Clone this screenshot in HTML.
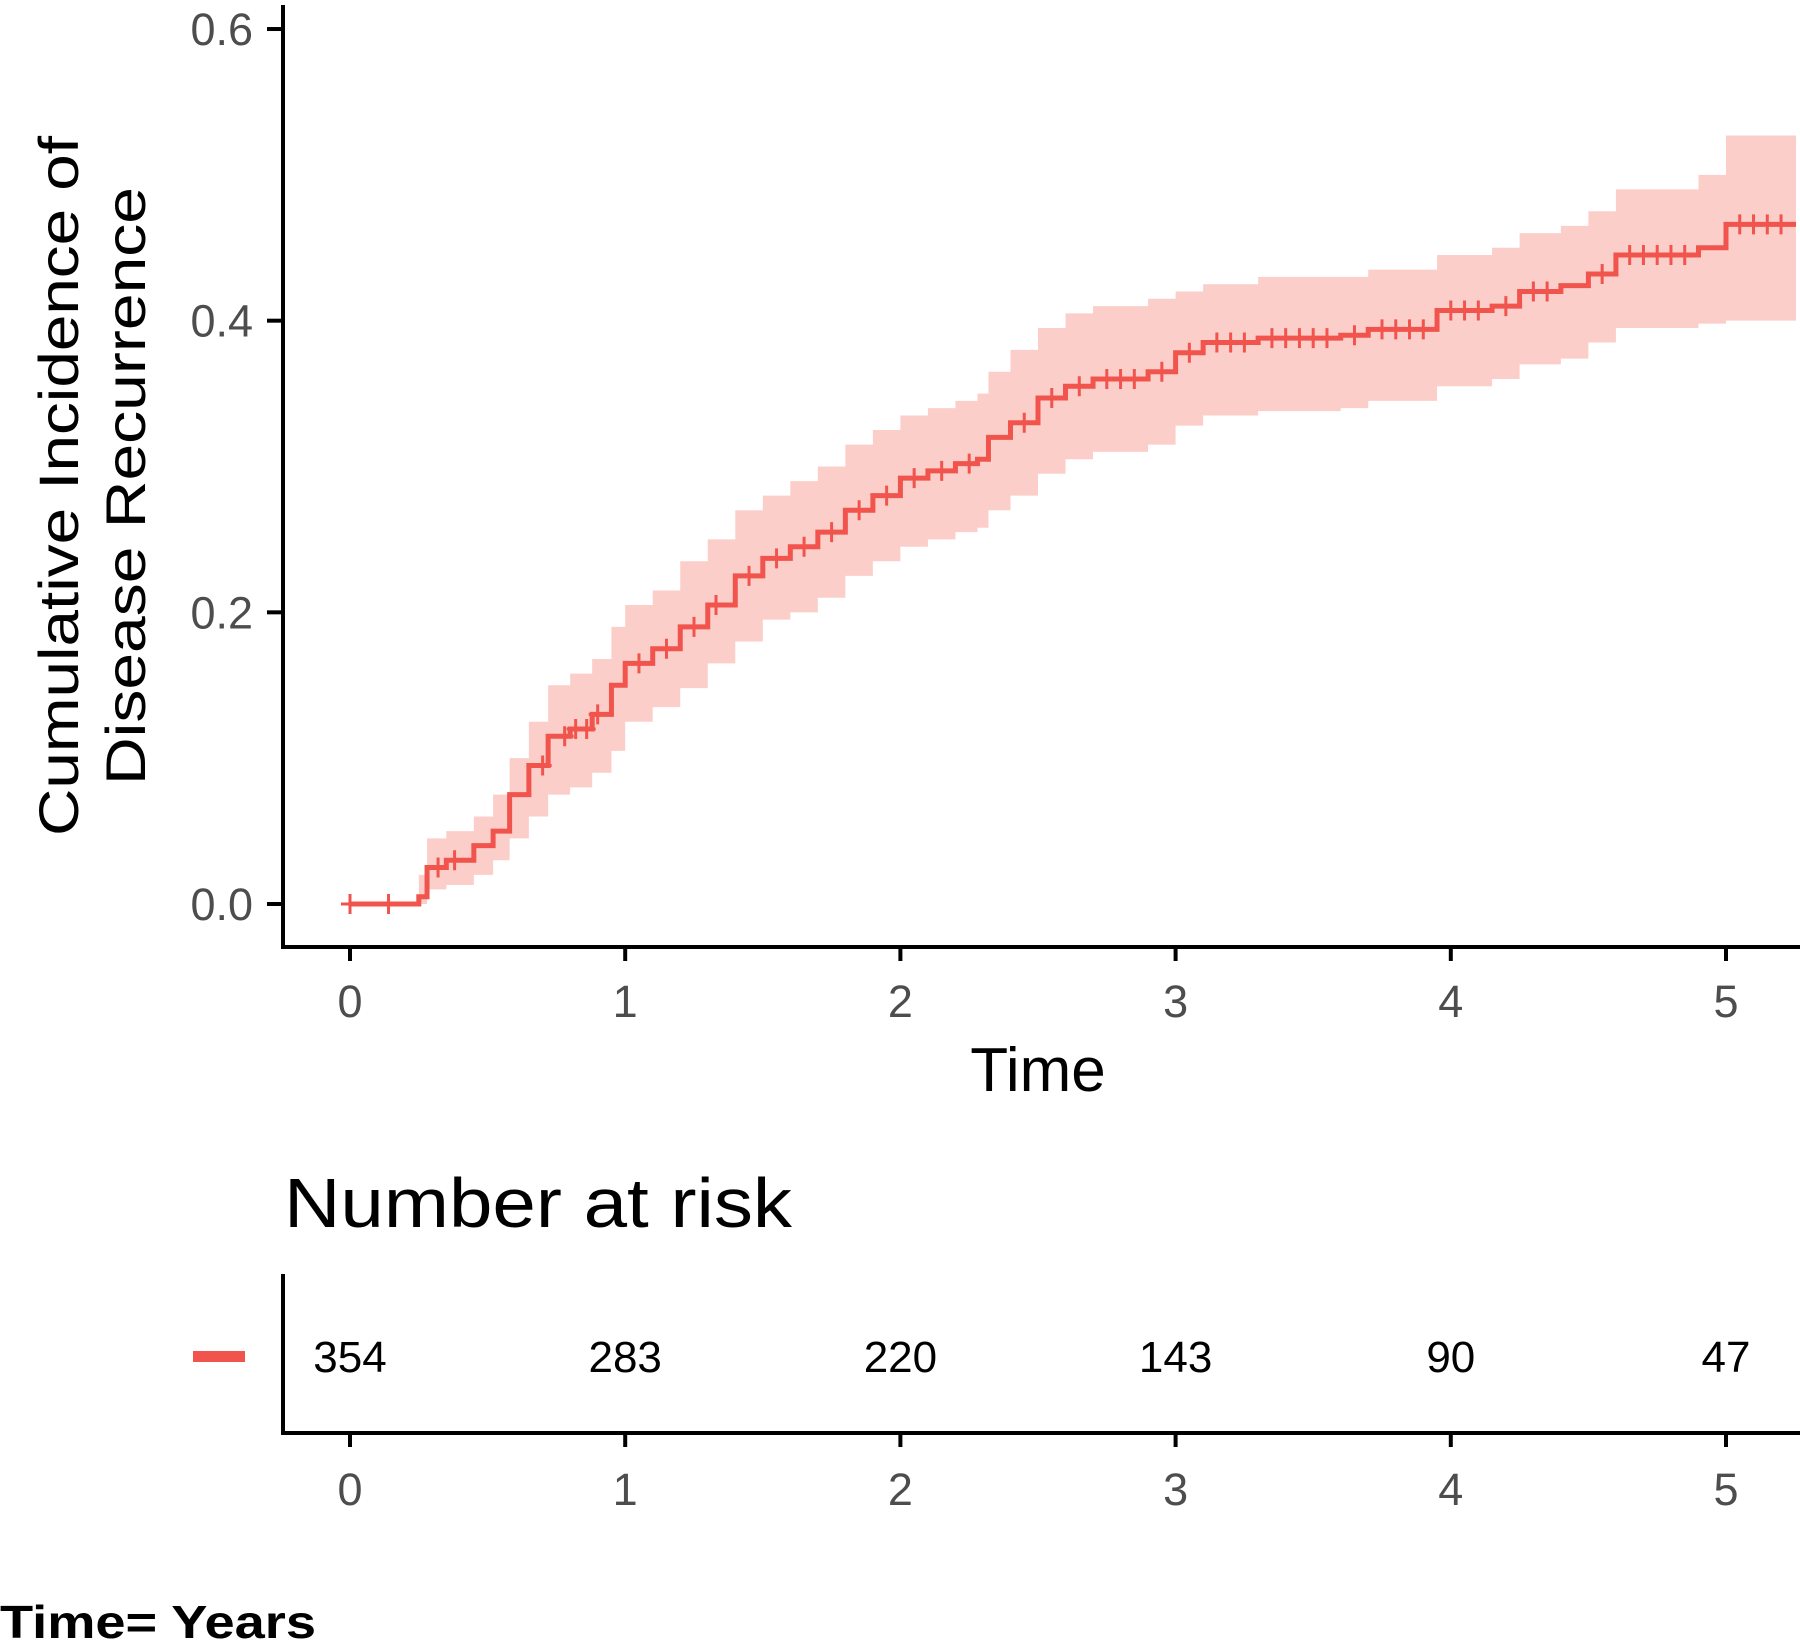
<!DOCTYPE html>
<html><head><meta charset="utf-8"><style>
html,body{margin:0;padding:0;background:#fff;}
svg{display:block;font-family:"Liberation Sans",Arial,sans-serif;}
</style></head><body>
<svg id="chart" width="1800" height="1640" viewBox="0 0 1800 1640" xmlns="http://www.w3.org/2000/svg">
<g id="plot"></g>
<g id="risk"></g>
<text x="0" y="1638" font-size="46" font-weight="bold" fill="#000" textLength="316" lengthAdjust="spacingAndGlyphs">Time= Years</text>
</svg>
<script>
const times=[0,0.15,0.25,0.28,0.35,0.45,0.52,0.58,0.65,0.72,0.8,0.88,0.95,1.0,1.1,1.2,1.3,1.4,1.5,1.6,1.7,1.8,1.9,2.0,2.1,2.2,2.28,2.32,2.4,2.5,2.6,2.7,2.9,3.0,3.1,3.3,3.6,3.7,3.95,4.15,4.25,4.4,4.5,4.6,4.9,5.0,5.25];
const est=[0,0,0.005,0.025,0.03,0.04,0.05,0.075,0.095,0.115,0.12,0.13,0.15,0.165,0.175,0.19,0.205,0.225,0.237,0.245,0.255,0.27,0.28,0.292,0.297,0.302,0.305,0.32,0.33,0.347,0.355,0.36,0.365,0.378,0.385,0.388,0.39,0.394,0.407,0.41,0.42,0.424,0.432,0.445,0.45,0.466,0.466];
const lower=[0,0,0,0.01,0.013,0.02,0.03,0.045,0.06,0.075,0.08,0.09,0.105,0.125,0.135,0.148,0.165,0.18,0.195,0.2,0.21,0.225,0.235,0.245,0.25,0.255,0.258,0.27,0.28,0.295,0.305,0.31,0.315,0.328,0.335,0.338,0.34,0.345,0.355,0.36,0.37,0.374,0.385,0.395,0.398,0.4,0.4];
const upper=[0,0,0.02,0.045,0.05,0.06,0.075,0.1,0.125,0.15,0.158,0.168,0.19,0.205,0.215,0.235,0.25,0.27,0.28,0.29,0.3,0.315,0.325,0.335,0.34,0.345,0.35,0.365,0.38,0.395,0.405,0.41,0.415,0.42,0.425,0.43,0.43,0.435,0.445,0.45,0.46,0.465,0.475,0.49,0.5,0.527,0.527];
const censorTimes=[0,0.14,0.32,0.38,0.7,0.78,0.82,0.86,0.9,1.05,1.15,1.25,1.33,1.45,1.55,1.65,1.75,1.85,1.95,2.05,2.15,2.25,2.45,2.55,2.65,2.75,2.8,2.85,2.95,3.05,3.15,3.2,3.25,3.35,3.4,3.45,3.5,3.55,3.65,3.75,3.8,3.85,3.9,4.0,4.05,4.1,4.2,4.3,4.35,4.55,4.65,4.7,4.75,4.8,4.85,5.05,5.1,5.15,5.2];
const xTicks=[0,1,2,3,4,5];
const yTicks=[0,0.2,0.4,0.6];
const yTickLabels=["0.0","0.2","0.4","0.6"];
const riskTimes=[0,1,2,3,4,5];
const riskCounts=[354,283,220,143,90,47];

const NS="http://www.w3.org/2000/svg";
const X0=350, XPER=275.2, Y0=904, YPER=1458.3;
const xs=t=>X0+t*XPER;
const ys=v=>Y0-v*YPER;
function mk(parent,tag,attrs){const e=document.createElementNS(NS,tag);for(const k in attrs)e.setAttribute(k,attrs[k]);parent.appendChild(e);return e;}
const plot=document.getElementById('plot');
const risk=document.getElementById('risk');
const XEND=1796;
const RED='#F0544C';

let up="",lo="";
for(let i=0;i<times.length;i++){
  const x=xs(times[i]), xn=i<times.length-1?xs(times[i+1]):XEND;
  up+=`${x},${ys(upper[i])} ${xn},${ys(upper[i])} `;
}
for(let i=times.length-1;i>=0;i--){
  const x=xs(times[i]), xn=i<times.length-1?xs(times[i+1]):XEND;
  lo+=`${xn},${ys(lower[i])} ${x},${ys(lower[i])} `;
}
const band=mk(plot,'polygon',{points:up+lo,fill:'#F8766D','fill-opacity':'0.36',stroke:'none'});



let d=`M${xs(times[0])},${ys(est[0])}`;
for(let i=1;i<times.length;i++){d+=` H${xs(times[i])} V${ys(est[i])}`;}
d+=` H${XEND}`;
const line=mk(plot,'path',{d:d,fill:'none',stroke:RED,'stroke-width':'5'});



function estAt(t){let v=0;for(let i=0;i<times.length;i++){if(times[i]<=t)v=est[i];}return v;}
censorTimes.forEach(t=>{
  const x=xs(t),y=ys(estAt(t));
  const c=mk(plot,'path',{d:`M${x-9},${y} H${x+9} M${x},${y-10} V${y+10}`,stroke:RED,'stroke-width':'3'});
  
  
});

const ya=mk(plot,'line',{x1:283,y1:5,x2:283,y2:949,stroke:'#000','stroke-width':'4'});


const xa=mk(plot,'line',{x1:281,y1:947,x2:1800,y2:947,stroke:'#000','stroke-width':'4'});


yTicks.forEach((v,i)=>{
  const tk=mk(plot,'line',{x1:267,y1:ys(v),x2:283,y2:ys(v),stroke:'#000','stroke-width':'4'});
  
  
  const tl=mk(plot,'text',{x:253,y:ys(v)+16,'font-size':'45','text-anchor':'end',fill:'#4d4d4d'});
  tl.textContent=yTickLabels[i];
  
  
});
xTicks.forEach(t=>{
  const tk=mk(plot,'line',{x1:xs(t),y1:947,x2:xs(t),y2:961,stroke:'#000','stroke-width':'4'});
  
  
  const tl=mk(plot,'text',{x:xs(t),y:1017,'font-size':'45','text-anchor':'middle',fill:'#4d4d4d'});
  tl.textContent=t;
  
  
});
const xt=mk(plot,'text',{x:1038,y:1091,'font-size':'62','text-anchor':'middle',fill:'#000'});
xt.textContent='Time';


const yt1=mk(plot,'text',{x:0,y:0,'font-size':'56','text-anchor':'middle',fill:'#000',transform:'translate(78,486) rotate(-90)',textLength:'700',lengthAdjust:'spacingAndGlyphs'});
yt1.textContent='Cumulative Incidence of';


const yt2=mk(plot,'text',{x:0,y:0,'font-size':'56','text-anchor':'middle',fill:'#000',transform:'translate(145,486) rotate(-90)',textLength:'598',lengthAdjust:'spacingAndGlyphs'});
yt2.textContent='Disease Recurrence';



const rt=mk(risk,'text',{x:284,y:1227,'font-size':'70',fill:'#000',textLength:'508',lengthAdjust:'spacingAndGlyphs'});
rt.textContent='Number at risk';


const ra=mk(risk,'line',{x1:283,y1:1274,x2:283,y2:1435,stroke:'#000','stroke-width':'4'});


const rx=mk(risk,'line',{x1:281,y1:1433,x2:1800,y2:1433,stroke:'#000','stroke-width':'4'});


const lg=mk(risk,'rect',{x:193,y:1351,width:52,height:11,fill:RED});


riskTimes.forEach((t,i)=>{
  const n=mk(risk,'text',{x:xs(t),y:1372,'font-size':'44','text-anchor':'middle',fill:'#000'});
  n.textContent=riskCounts[i];
  
  
  const tk=mk(risk,'line',{x1:xs(t),y1:1433,x2:xs(t),y2:1447,stroke:'#000','stroke-width':'4'});
  
  
  const tl=mk(risk,'text',{x:xs(t),y:1505,'font-size':'45','text-anchor':'middle',fill:'#4d4d4d'});
  tl.textContent=t;
  
  
});
</script>
</body></html>
